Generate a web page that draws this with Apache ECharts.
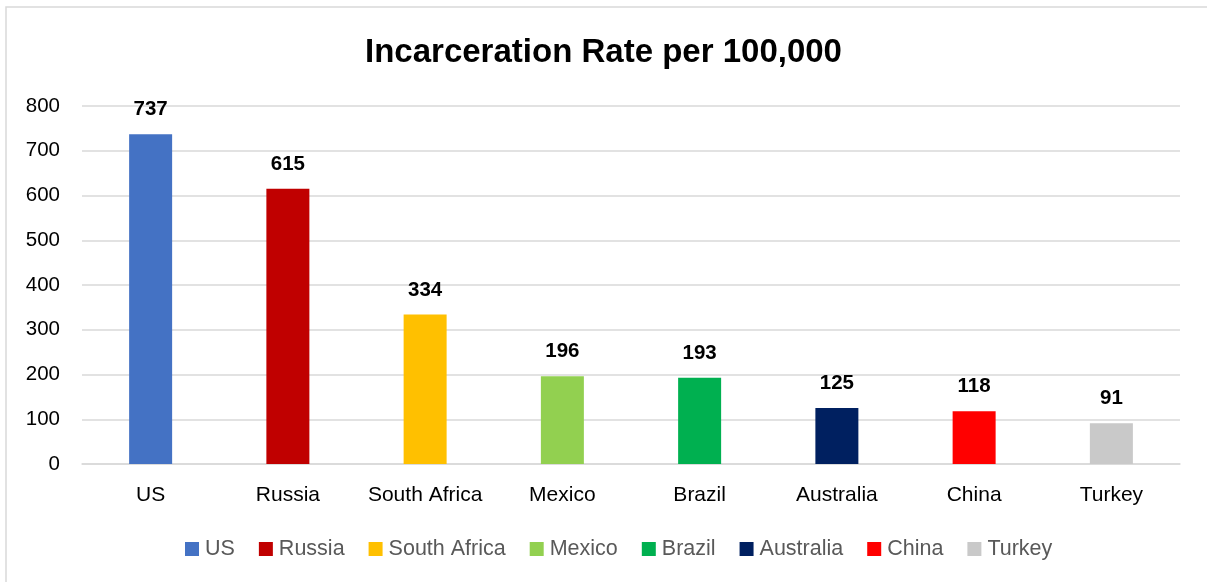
<!DOCTYPE html>
<html>
<head>
<meta charset="utf-8">
<script src="https://cdn.jsdelivr.net/npm/echarts@6/dist/echarts.min.js"></script>
<style>
  html, body { margin: 0; padding: 0; background: #fff; }
  #chart { width: 1207px; height: 582px; }
</style>
</head>
<body>
<div id="chart"></div>
<script>
// Prisoners per 100,000 population, by country
const countries = ['US', 'Russia', 'South Africa', 'Mexico', 'Brazil', 'Australia', 'China', 'Turkey'];
const rates = [737, 615, 334, 196, 193, 125, 118, 91];
const barColors = ['#4472C4', '#C00000', '#FFC000', '#92D050', '#00B050', '#002060', '#FF0000', '#C9C9C9'];
const yTicks = [0, 100, 200, 300, 400, 500, 600, 700, 800];

const FONT = '"Liberation Sans", Arial, sans-serif';

// One stacked series per country so each gets its own legend entry
// while every bar stays centred on its category.
const series = countries.map((name, i) => ({
  name: name,
  type: 'bar',
  stack: 'rate',
  barWidth: 43,
  itemStyle: { color: barColors[i] },
  data: countries.map((_, j) => (j === i ? rates[i] : '-')),
  label: {
    show: true,
    position: 'top',
    distance: 14,
    fontFamily: FONT,
    fontSize: 20.5,
    fontWeight: 'bold',
    color: '#000'
  }
}));

const chart = echarts.init(document.getElementById('chart'), null, { renderer: 'canvas' });
chart.setOption({
  animation: false,
  backgroundColor: '#fff',
  graphic: [{
    type: 'rect',
    shape: { x: 6, y: 7, width: 1240, height: 620 },
    style: { fill: 'none', stroke: '#d9d9d9', lineWidth: 1.5 },
    silent: true
  }],
  title: {
    text: 'Incarceration Rate per 100,000',
    left: 'center',
    top: 31,
    textStyle: { fontFamily: FONT, fontSize: 33, fontWeight: 'bold', color: '#000' }
  },
  legend: {
    data: countries,
    bottom: 17,
    left: 180,
    icon: 'rect',
    itemWidth: 14,
    itemHeight: 14,
    itemGap: 24,
    textStyle: { fontFamily: FONT, fontSize: 21.5, color: '#595959', padding: [0, 0, 0, 1] }
  },
  grid: { left: 82, right: 27, top: 106, bottom: 118, containLabel: false },
  xAxis: {
    type: 'category',
    data: countries,
    axisLine: { show: true, lineStyle: { color: '#d9d9d9', width: 1.5 } },
    axisTick: { show: false },
    axisLabel: { interval: 0, fontFamily: FONT, fontSize: 21, color: '#000', margin: 21 }
  },
  yAxis: {
    type: 'value',
    min: yTicks[0],
    max: yTicks[yTicks.length - 1],
    interval: 100,
    axisLine: { show: false },
    axisTick: { show: false },
    axisLabel: { fontFamily: FONT, fontSize: 20.5, color: '#000', margin: 22 },
    splitLine: { lineStyle: { color: '#d9d9d9', width: 1.5 } }
  },
  series: series
});
</script>
</body>
</html>
